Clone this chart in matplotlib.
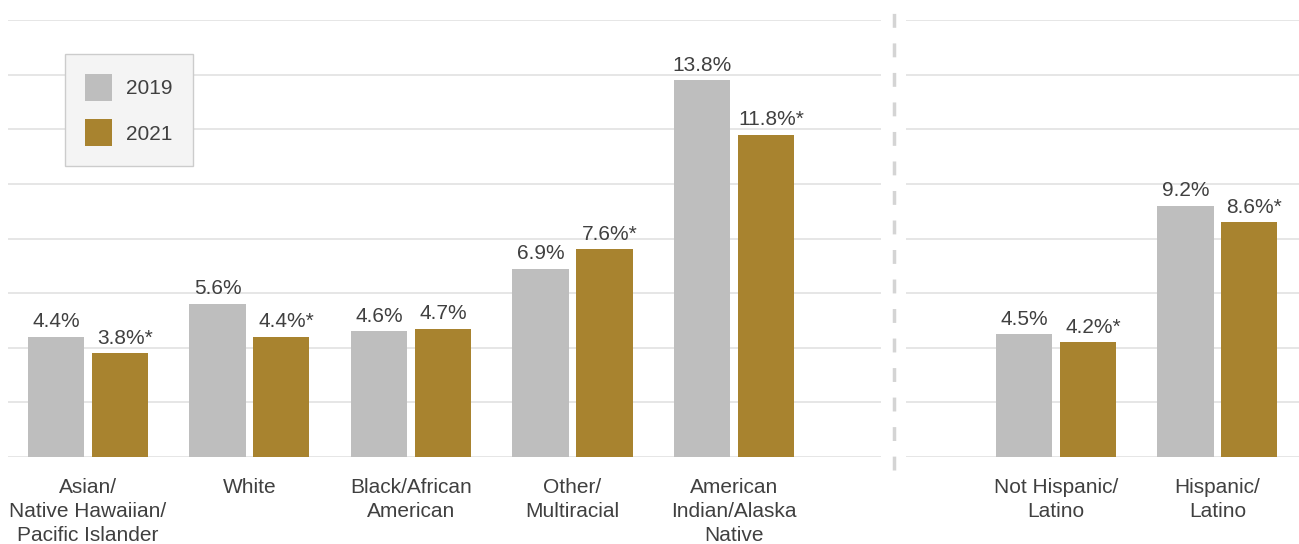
#!/usr/bin/env python3
import matplotlib.pyplot as plt
import numpy as np

plt.rcParams["font.family"] = ["Liberation Sans", "DejaVu Sans"]

race_labels = ["Asian/\nNative Hawaiian/\nPacific Islander", "White",
               "Black/African\nAmerican", "Other/\nMultiracial",
               "American\nIndian/Alaska\nNative"]
race_2019 = [4.4, 5.6, 4.6, 6.9, 13.8]
race_2021 = [3.8, 4.4, 4.7, 7.6, 11.8]
race_star = [True, True, False, True, True]

eth_labels = ["Not Hispanic/\nLatino", "Hispanic/\nLatino"]
eth_2019 = [4.5, 9.2]
eth_2021 = [4.2, 8.6]
eth_star = [True, True]

GRAY = "#BEBEBE"
GOLD = "#A8832F"
TEXT = "#404040"
GRID = "#E2E2E2"
FS = 15

W, H = 1299, 544
fig = plt.figure(figsize=(W / 100, H / 100), dpi=100)

base_y = 457
top_y = 20
ax_b = (H - base_y) / H
ax_h = (base_y - top_y) / H
ax1 = fig.add_axes([8 / W, ax_b, (881 - 8) / W, ax_h])
ax2 = fig.add_axes([905.5 / W, ax_b, (W - 905.5) / W, ax_h])

width = 0.347
off = 0.198


def draw_panel(ax, labels, v19, v21, stars, xlim):
    x = np.arange(len(labels))
    ax.bar(x - off, v19, width, color=GRAY, zorder=3, label="2019")
    ax.bar(x + off, v21, width, color=GOLD, zorder=3, label="2021")
    for i in range(len(labels)):
        ax.annotate(f"{v19[i]:.1f}%", (x[i] - off, v19[i]), xytext=(0, 4),
                    textcoords="offset points", ha="center", va="bottom",
                    fontsize=FS, color=TEXT)
        lab = f"{v21[i]:.1f}%" + ("*" if stars[i] else "")
        xt = 3.5 if stars[i] else 0
        ax.annotate(lab, (x[i] + off, v21[i]), xytext=(xt, 4),
                    textcoords="offset points", ha="center", va="bottom",
                    fontsize=FS, color=TEXT)
    ax.set_xlim(*xlim)
    ax.set_ylim(0, 16)
    ax.set_yticks(np.arange(0, 17, 2))
    ax.yaxis.grid(True, color=GRID, linewidth=1.2, zorder=0)
    ax.tick_params(axis="y", left=False, labelleft=False)
    ax.set_xticks(x)
    ax.set_xticklabels(labels, fontsize=FS, color=TEXT, linespacing=1.33)
    ax.tick_params(axis="x", length=0, pad=15)
    for s in ax.spines.values():
        s.set_visible(False)


draw_panel(ax1, race_labels, race_2019, race_2021, race_star, (-0.495, 4.91))
draw_panel(ax2, eth_labels, eth_2019, eth_2021, eth_star, (-0.932, 1.505))

# dashed divider between the two panels
fig.add_artist(plt.Line2D([894 / W, 894 / W], [(H - 470) / H, (H - 6) / H],
                          transform=fig.transFigure, color="#D4D4D4",
                          linewidth=2.5, linestyle=(0, (4, 4.5))))

leg = ax1.legend(loc="upper left", bbox_to_anchor=((65 - 8) / 873, 1 - (54 - 20) / 437),
                 fontsize=FS, frameon=True, fancybox=False, handlelength=1.3,
                 handleheight=1.6, handletextpad=0.7, labelspacing=0.9,
                 borderpad=0.95, borderaxespad=0)
leg.get_frame().set_facecolor("#F4F4F4")
leg.get_frame().set_edgecolor("#CCCCCC")
leg.get_frame().set_alpha(1)
for t in leg.get_texts():
    t.set_color(TEXT)

fig.savefig("out.png", dpi=100)
